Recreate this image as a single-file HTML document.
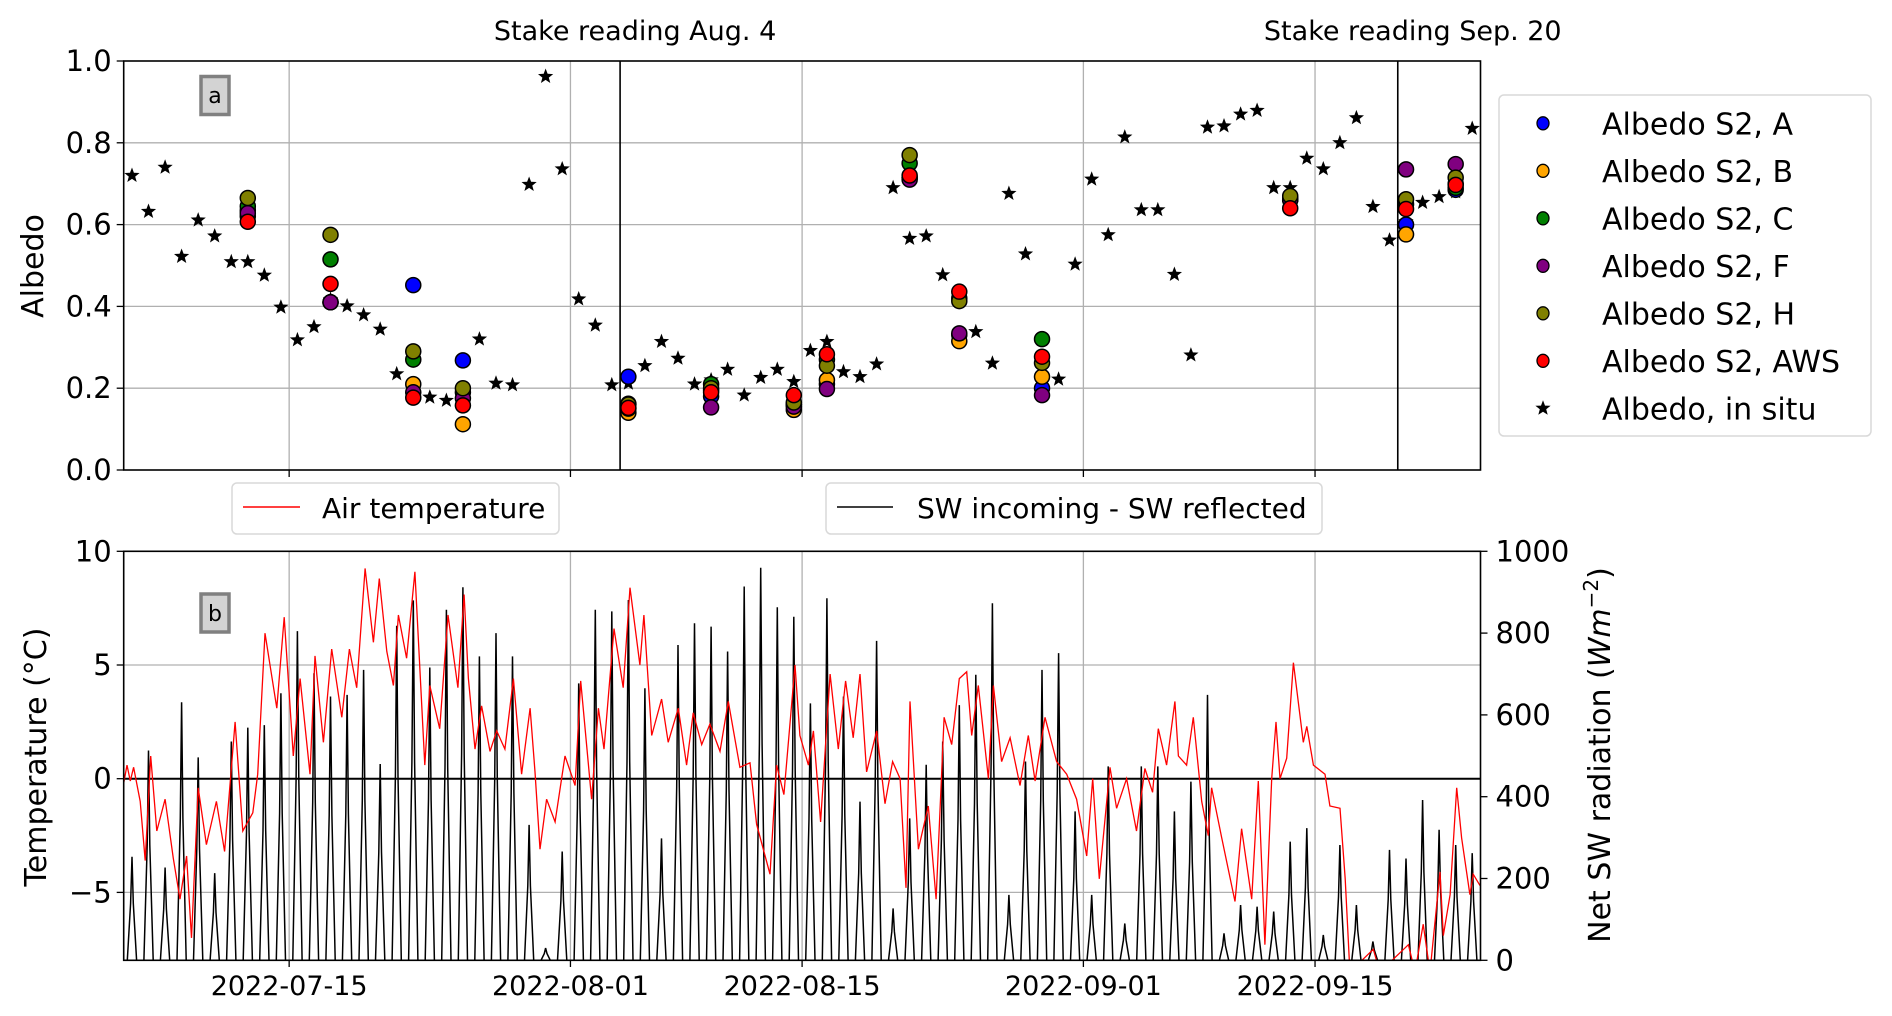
<!DOCTYPE html>
<html><head><meta charset="utf-8"><style>
html,body{margin:0;padding:0;background:#fff;}
svg{display:block;font-family:"DejaVu Sans","Liberation Sans",sans-serif;}
</style></head><body>
<svg id="fig" width="1892" height="1016" viewBox="0 0 1892 1016" xmlns="http://www.w3.org/2000/svg">
<defs>
<clipPath id="clipB"><rect x="123.7" y="551.3" width="1356.8" height="409"/></clipPath>
</defs>
<g id="top"></g>
<g id="bot"></g>
</svg>
<script>
// ---------- data (day index from 2022-07-05) ----------
const dateTickDays = [10, 27, 41, 58, 72];
const dateTickLabels = ["2022-07-15","2022-08-01","2022-08-15","2022-09-01","2022-09-15"];
const albedoTicks = [0.0,0.2,0.4,0.6,0.8,1.0];
const tempTicks = [-5,0,5,10];
const swTicks = [0,200,400,600,800,1000];
const stakeDays = [30, 77];
const stakeLabels = ["Stake reading Aug. 4","Stake reading Sep. 20"];

const starDays = [0.5,1.5,2.5,3.5,4.5,5.5,6.5,7.5,8.5,9.5,10.5,11.5,12.5,13.5,14.5,15.5,16.5,17.5,18.5,19.5,20.5,21.5,22.5,23.5,24.5,25.5,26.5,27.5,28.5,29.5,30.5,31.5,32.5,33.5,34.5,35.5,36.5,37.5,38.5,39.5,40.5,41.5,42.5,43.5,44.5,45.5,46.5,47.5,48.5,49.5,51.5,52.5,53.5,54.5,56.5,57.5,58.5,59.5,60.5,61.5,62.5,63.5,64.5,65.5,66.5,67.5,68.5,69.5,70.5,71.5,72.5,73.5,74.5,75.5,76.5,77.5,78.5,79.5,80.5,81.5];
const starVals = [0.72,0.632,0.74,0.522,0.611,0.572,0.509,0.509,0.476,0.398,0.318,0.35,0.417,0.401,0.379,0.344,0.235,0.19,0.178,0.17,0.18,0.32,0.212,0.208,0.698,0.962,0.736,0.418,0.354,0.208,0.212,0.255,0.314,0.273,0.21,0.22,0.246,0.183,0.226,0.246,0.216,0.292,0.314,0.24,0.228,0.259,0.69,0.566,0.572,0.477,0.338,0.261,0.676,0.528,0.222,0.503,0.711,0.575,0.814,0.636,0.636,0.478,0.281,0.838,0.841,0.870,0.879,0.69,0.69,0.762,0.736,0.80,0.861,0.644,0.562,0.607,0.654,0.668,0.68,0.835];

const s2Days = [7.5,12.5,17.5,20.5,30.5,35.5,40.5,42.5,47.5,50.5,55.5,70.5,77.5,80.5];
const s2A   = [0.635,0.41,0.452,0.268,0.228,0.18,0.16,0.21,0.715,0.33,0.20,0.66,0.60,0.685];
const s2B   = [0.62,0.41,0.21,0.112,0.14,0.195,0.147,0.22,0.715,0.315,0.228,0.66,0.576,0.70];
const s2C   = [0.645,0.515,0.27,0.19,0.162,0.21,0.16,0.27,0.75,0.42,0.32,0.665,0.65,0.69];
const s2F   = [0.628,0.41,0.19,0.175,0.15,0.153,0.155,0.198,0.71,0.334,0.183,0.66,0.735,0.748];
const s2H   = [0.665,0.575,0.29,0.20,0.16,0.20,0.165,0.255,0.77,0.413,0.262,0.67,0.662,0.715];
const s2AWS = [0.607,0.455,0.177,0.158,0.152,0.19,0.183,0.283,0.72,0.436,0.277,0.64,0.638,0.697];

const swPeaks = [253,513,227,631,496,213,535,569,575,653,805,702,645,649,710,480,818,880,716,857,912,743,800,743,331,30,266,677,857,853,881,665,298,771,824,816,755,914,960,863,840,628,885,645,388,781,127,347,478,535,624,698,873,160,486,710,751,364,160,474,90,474,474,364,437,649,66,135,131,119,290,323,62,282,135,46,270,249,392,319,282,262,62];

const tempDays = [0,0.2,0.4,0.6,1.0,1.3,1.63,2.0,2.5,3.0,3.4,3.8,4.1,4.5,5.0,5.6,6.1,6.73,7.2,7.8,8.1,8.54,9.25,9.7,10.25,10.66,11.26,11.56,12.07,12.57,13.18,13.64,14.08,14.59,15.09,15.45,15.9,16.3,16.6,17.1,17.6,18.2,18.5,19.1,19.6,20.2,20.57,20.83,21.23,21.63,22.14,22.54,23.04,23.55,24.05,24.56,24.86,25.16,25.56,26.07,26.67,27.28,27.62,28.28,28.69,29.03,29.63,30.19,30.6,31.2,31.44,31.91,32.51,32.91,33.52,34.02,34.42,34.93,35.43,36.04,36.54,37.24,37.85,38.25,39.06,39.46,39.9,40.57,40.87,41.38,41.68,42.12,42.69,43.19,43.63,44.09,44.5,44.9,45.51,46.01,46.47,46.92,47.28,47.52,48.03,48.63,49.1,49.58,50.04,50.5,50.95,51.25,51.65,52.26,52.56,53.06,53.57,54.17,54.67,55.08,55.68,56.38,56.99,57.59,58.2,58.56,58.96,59.61,60.01,60.61,61.21,61.72,62.18,62.53,63.03,63.53,63.74,64.24,64.64,65.15,65.55,65.75,66.36,67.16,67.56,68.17,68.57,68.97,69.38,69.64,69.88,70.29,70.69,71.29,71.5,71.9,72.6,72.9,73.51,73.82,74.11,75.52,75.92,77.64,78.04,78.54,78.95,79.55,79.75,80.16,80.56,80.86,81.36,81.56,81.97];
const tempVals = [-0.2,0.6,-0.1,0.5,-1.0,-3.6,1.0,-2.3,-0.9,-3.5,-5.3,-3.4,-7.0,-0.4,-2.9,-1.0,-3.2,2.5,-2.3,-1.5,0.2,6.4,3.1,7.1,1.0,4.4,0.2,5.4,1.6,5.7,2.7,5.7,4.0,9.25,6.0,8.8,5.6,4.1,7.2,5.3,9.1,0.6,4.1,2.2,7.2,4.0,8.1,4.4,1.3,3.2,1.2,2.1,1.3,4.4,0.2,3.1,0.3,-3.1,-0.9,-1.9,1.0,-0.3,4.3,-0.9,3.1,1.3,6.6,4.0,8.4,5.0,7.2,1.9,3.5,1.6,3.1,0.6,2.9,1.5,2.4,1.2,3.4,0.5,0.7,-2.0,-4.2,0.6,-0.7,5.0,1.9,0.6,2.1,-1.9,4.6,1.3,4.3,1.8,4.6,0.3,2.1,-1.1,0.75,0,-4.8,3.4,-3.1,-1.2,-5.3,2.7,1.5,4.4,4.7,1.9,4.1,0,4.1,0.75,1.8,-0.3,1.9,-0.1,2.7,0.75,0.2,-0.9,-3.4,0,-4.4,0.5,-1.3,0,-2.3,0.45,-0.6,2.2,0.6,3.4,1.0,0.6,2.7,-1.0,-2.5,-0.4,-2.6,-5.4,-2.2,-5.3,-0.1,-7.3,0,2.5,0,0.9,5.1,1.6,2.3,0.6,0.2,-1.2,-1.3,-4.4,-8.5,-7.5,-8.5,-7.3,-8.5,-6.4,-8.5,-4.1,-6.9,-5.1,-0.4,-2.6,-5.1,-4.2,-4.7];

// ---------- scales ----------
const X0=123.7, X1=1480.5, D0=0, D1=82;
const xs = d => X0 + (d-D0)/(D1-D0)*(X1-X0);
const yA = v => 470 - v*409;
const yT = t => 778.7 - t*22.74;
const yS = w => 960.3 - w*0.409;

const NS="http://www.w3.org/2000/svg";
function mk(tag, attrs, parent){
  const e=document.createElementNS(NS,tag);
  for(const k in attrs) e.setAttribute(k,attrs[k]);
  parent.appendChild(e); return e;
}
const topG=document.getElementById('top');
const bot=document.getElementById('bot');

// ===== TOP PANEL =====
albedoTicks.forEach(v=>{
  if(v>0 && v<1){
    const g=mk('line',{x1:X0,x2:X1,y1:yA(v),y2:yA(v),stroke:'#b0b0b0','stroke-width':1.3},topG);
    
    
  }
  const tk=mk('line',{x1:X0-7,x2:X0,y1:yA(v),y2:yA(v),stroke:'#000','stroke-width':1.3},topG);
  
  
  const t=mk('text',{x:X0-12,y:yA(v)+10,'text-anchor':'end','font-size':29},topG);
  t.textContent=v.toFixed(1);
  
  
});
dateTickDays.forEach(d=>{
  const g=mk('line',{x1:xs(d),x2:xs(d),y1:61,y2:470,stroke:'#b0b0b0','stroke-width':1.3},topG);
  
  
  const tk=mk('line',{x1:xs(d),x2:xs(d),y1:470,y2:477,stroke:'#000','stroke-width':1.3},topG);
  
  
});
stakeDays.forEach((d,i)=>{
  const l=mk('line',{x1:xs(d),x2:xs(d),y1:61,y2:470,stroke:'#000','stroke-width':1.6},topG);
  
  
  const t=mk('text',{x:xs(d)+15,y:40,'text-anchor':'middle','font-size':27},topG);
  t.textContent=stakeLabels[i];
  
  
});
function starPts(cx,cy,R){
  const r=R*0.42; let p=[];
  for(let k=0;k<10;k++){
    const a=-Math.PI/2+k*Math.PI/5, rr=k%2?r:R;
    p.push((cx+rr*Math.cos(a)).toFixed(1)+','+(cy+rr*Math.sin(a)).toFixed(1));
  }
  return p.join(' ');
}
starDays.forEach((d,i)=>{
  const s=mk('polygon',{points:starPts(xs(d),yA(starVals[i]),8),fill:'#000'},topG);
  
  
});
const s2Series=[[s2A,'#0000ff','a'],[s2B,'#ffa500','b'],[s2C,'#008000','c'],[s2F,'#800080','f'],[s2H,'#808000','h'],[s2AWS,'#ff0000','aws']];
s2Series.forEach(([vals,col,nm])=>{
  s2Days.forEach((d,i)=>{
    const c=mk('ellipse',{cx:xs(d),cy:yA(vals[i]),rx:7.5,ry:7.5,fill:col,stroke:'#000','stroke-width':1.5},topG);
    
    
  });
});
const fr1=mk('rect',{x:X0,y:61,width:X1-X0,height:409,fill:'none',stroke:'#000','stroke-width':1.6},topG);


const ab=mk('rect',{x:201,y:76.5,width:28,height:38,fill:'#d3d3d3',stroke:'#808080','stroke-width':3.5},topG);


const at=mk('text',{x:215,y:103,'text-anchor':'middle','font-size':22},topG);
at.textContent='a';


const yl=mk('text',{x:0,y:0,'text-anchor':'middle','font-size':30,transform:'translate(43,266) rotate(-90)'},topG);
yl.textContent='Albedo';



// legend right
const lg=mk('g',{},topG);


const lb=mk('rect',{x:1499,y:95,width:372,height:341,rx:5,fill:'#fff',stroke:'#d9d9d9','stroke-width':1.5},lg);


const legNames=['Albedo S2, A','Albedo S2, B','Albedo S2, C','Albedo S2, F','Albedo S2, H','Albedo S2, AWS','Albedo, in situ'];
const legCols=['#0000ff','#ffa500','#008000','#800080','#808000','#ff0000','star'];
legNames.forEach((n,i)=>{
  const cy=123.3+i*47.5;
  let m;
  if(legCols[i]==='star'){ m=mk('polygon',{points:starPts(1543,cy,8),fill:'#000'},lg); }
  else { m=mk('ellipse',{cx:1543,cy:cy,rx:6,ry:6.5,fill:legCols[i],stroke:'#000','stroke-width':1.3},lg); }
  
  
  const t=mk('text',{x:1602,y:cy+11,'font-size':30},lg);
  t.textContent=n;
  
  
});

// ===== BOTTOM PANEL =====
[5,-5].forEach(t=>{
  const g=mk('line',{x1:X0,x2:X1,y1:yT(t),y2:yT(t),stroke:'#b0b0b0','stroke-width':1.3},bot);
  
  
});
dateTickDays.forEach((d,i)=>{
  const g=mk('line',{x1:xs(d),x2:xs(d),y1:551.3,y2:960.3,stroke:'#b0b0b0','stroke-width':1.3},bot);
  
  
  const tk=mk('line',{x1:xs(d),x2:xs(d),y1:960.3,y2:967,stroke:'#000','stroke-width':1.3},bot);
  
  
  const t=mk('text',{x:xs(d),y:995,'text-anchor':'middle','font-size':27},bot);
  t.textContent=dateTickLabels[i];
  
  
});
tempTicks.forEach(v=>{
  const tk=mk('line',{x1:X0-7,x2:X0,y1:yT(v),y2:yT(v),stroke:'#000','stroke-width':1.3},bot);
  
  
  const t=mk('text',{x:X0-12,y:yT(v)+10,'text-anchor':'end','font-size':29},bot);
  t.textContent=v<0?'\u2212'+Math.abs(v):String(v);
  
  
});
swTicks.forEach(v=>{
  const tk=mk('line',{x1:X1,x2:X1+7,y1:yS(v),y2:yS(v),stroke:'#000','stroke-width':1.3},bot);
  
  
  const t=mk('text',{x:X1+15,y:yS(v)+10,'font-size':29},bot);
  t.textContent=String(v);
  
  
});
// SW radiation line
let swp=[];
swPeaks.forEach((p,d)=>{
  swp.push(xs(d+0.22).toFixed(1)+','+yS(0).toFixed(1));
  swp.push(xs(d+0.42).toFixed(1)+','+yS(p*0.55).toFixed(1));
  swp.push(xs(d+0.5).toFixed(1)+','+yS(p).toFixed(1));
  swp.push(xs(d+0.58).toFixed(1)+','+yS(p*0.55).toFixed(1));
  swp.push(xs(d+0.78).toFixed(1)+','+yS(0).toFixed(1));
});
const swl=mk('polyline',{points:swp.join(' '),fill:'none',stroke:'#000','stroke-width':1.5,'clip-path':'url(#clipB)'},bot);


// zero line
const zl=mk('line',{x1:X0,x2:X1,y1:yT(0),y2:yT(0),stroke:'#000','stroke-width':2},bot);


// temperature line
const tp=tempDays.map((d,i)=>xs(d).toFixed(1)+','+yT(tempVals[i]).toFixed(1)).join(' ');
const tl=mk('polyline',{points:tp,fill:'none',stroke:'#ff0000','stroke-width':1.3,'clip-path':'url(#clipB)'},bot);


const fr2=mk('rect',{x:X0,y:551.3,width:X1-X0,height:409,fill:'none',stroke:'#000','stroke-width':1.6},bot);


const bb=mk('rect',{x:201,y:594,width:28,height:38,fill:'#d3d3d3',stroke:'#808080','stroke-width':3.5},bot);


const bt=mk('text',{x:215,y:621,'text-anchor':'middle','font-size':22},bot);
bt.textContent='b';


const tyl=mk('text',{x:0,y:0,'text-anchor':'middle','font-size':30,transform:'translate(46,757) rotate(-90)'},bot);
tyl.textContent='Temperature (\u00b0C)';


const ryl=mk('text',{x:0,y:0,'text-anchor':'middle','font-size':30,transform:'translate(1610,755) rotate(-90)'},bot);


ryl.innerHTML='Net SW radiation (<tspan font-style="italic">Wm</tspan><tspan font-size="20" dy="-12">\u22122</tspan><tspan dy="12">)</tspan>';

// top legends of bottom panel
const l1=mk('g',{},bot);


const l1b=mk('rect',{x:232,y:483,width:327,height:51,rx:5,fill:'#fff',stroke:'#d9d9d9','stroke-width':1.5},l1);


const l1l=mk('line',{x1:243,x2:300,y1:507,y2:507,stroke:'#ff0000','stroke-width':1.5},l1);


const l1t=mk('text',{x:322,y:518,'font-size':28},l1);
l1t.textContent='Air temperature';


const l2=mk('g',{},bot);


const l2b=mk('rect',{x:826,y:483,width:496,height:51,rx:5,fill:'#fff',stroke:'#d9d9d9','stroke-width':1.5},l2);


const l2l=mk('line',{x1:837,x2:893,y1:507,y2:507,stroke:'#000','stroke-width':1.5},l2);


const l2t=mk('text',{x:917,y:518,'font-size':28},l2);
l2t.textContent='SW incoming - SW reflected';


</script>
</body></html>
